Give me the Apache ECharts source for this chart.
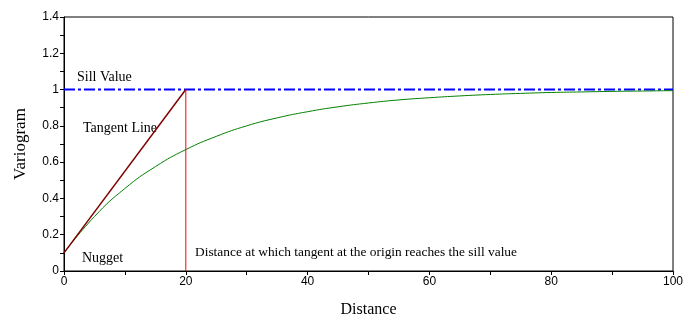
<!DOCTYPE html>
<html><head><meta charset="utf-8">
<script src="https://cdn.jsdelivr.net/npm/echarts@6/dist/echarts.min.js"></script>
<style>html,body{margin:0;padding:0;background:#fff}#c{width:700px;height:324px}</style>
</head><body><div id="c"></div>
<script>
// Exponential variogram curve
var distance = [0, 5, 10, 15, 20, 25, 30, 35, 40, 45, 50, 55, 60, 65, 70, 75, 80, 85, 90, 95, 100];
var variogram = [0.10, 0.30, 0.455, 0.575, 0.669, 0.742, 0.80, 0.844, 0.878, 0.905, 0.926, 0.943, 0.955, 0.965, 0.973, 0.979, 0.984, 0.987, 0.99, 0.992, 0.994];
var tangentX = [0, 20];
var tangentY = [0.1, 1];
var rangeX = [20, 20];
var rangeY = [0, 1];
var sillX = [0, 100];
var sillY = [1, 1];
var xTicks = [0, 20, 40, 60, 80, 100];
var yTicks = [0, 0.2, 0.4, 0.6, 0.8, 1, 1.2, 1.4];

function zip(a, b) { return a.map(function (v, i) { return [v, b[i]]; }); }

var chart = echarts.init(document.getElementById('c'), null, {renderer: 'canvas'});
var serif = 'Liberation Serif';
var sans = 'Liberation Sans';
chart.setOption({
  animation: false,
  grid: {left: 64, right: 27, top: 17, bottom: 53, show: true, borderColor: '#000', borderWidth: 1},
  xAxis: {
    type: 'value', min: 0, max: 100, interval: 10,
    name: 'Distance', nameLocation: 'middle', nameGap: 31,
    nameTextStyle: {fontFamily: serif, fontSize: 16, color: '#000'},
    axisLine: {show: true, lineStyle: {color: '#000', width: 1}},
    axisTick: {show: true, length: 4, lineStyle: {color: '#000'}},
    splitLine: {show: false},
    axisLabel: {
      color: '#000', fontFamily: sans, fontSize: 12, margin: 5,
      formatter: function (v) { return xTicks.indexOf(Math.round(v)) >= 0 ? String(Math.round(v)) : ''; }
    }
  },
  yAxis: {
    type: 'value', min: 0, max: 1.4, interval: 0.1,
    name: 'Variogram', nameLocation: 'middle', nameGap: 35,
    nameTextStyle: {fontFamily: serif, fontSize: 17, color: '#000'},
    axisLine: {show: true, lineStyle: {color: '#000', width: 1}},
    axisTick: {show: true, length: 4, lineStyle: {color: '#000'}},
    splitLine: {show: false},
    axisLabel: {
      color: '#000', fontFamily: sans, fontSize: 12, margin: 5,
      formatter: function (v) {
        var r = Math.round(v * 10) / 10;
        for (var i = 0; i < yTicks.length; i++) if (Math.abs(yTicks[i] - r) < 1e-9) return String(yTicks[i]);
        return '';
      }
    }
  },
  series: [
    {type: 'line', data: zip(sillX, sillY), showSymbol: false, lineStyle: {color: '#0000ff', width: 2, type: [11, 3, 3, 3]}},
    {type: 'line', data: zip(distance, variogram), smooth: true, showSymbol: false, lineStyle: {color: '#008000', width: 1}},
    {type: 'line', data: zip(tangentX, tangentY), showSymbol: false, lineStyle: {color: '#800000', width: 1.5}},
    {type: 'line', data: zip(rangeX, rangeY), showSymbol: false, lineStyle: {color: '#ff0000', width: 1}}
  ],
  graphic: [
    {type: 'text', left: 77, top: 70, style: {text: 'Sill Value', font: '14px "Liberation Serif"', fill: '#000'}},
    {type: 'text', left: 83, top: 121, style: {text: 'Tangent Line', font: '14px "Liberation Serif"', fill: '#000'}},
    {type: 'text', left: 82, top: 251, style: {text: 'Nugget', font: '14px "Liberation Serif"', fill: '#000'}},
    {type: 'text', left: 195, top: 246, style: {text: 'Distance at which tangent at the origin reaches the sill value', font: '13.4px "Liberation Serif"', fill: '#000'}}
  ]
});
</script></body></html>
